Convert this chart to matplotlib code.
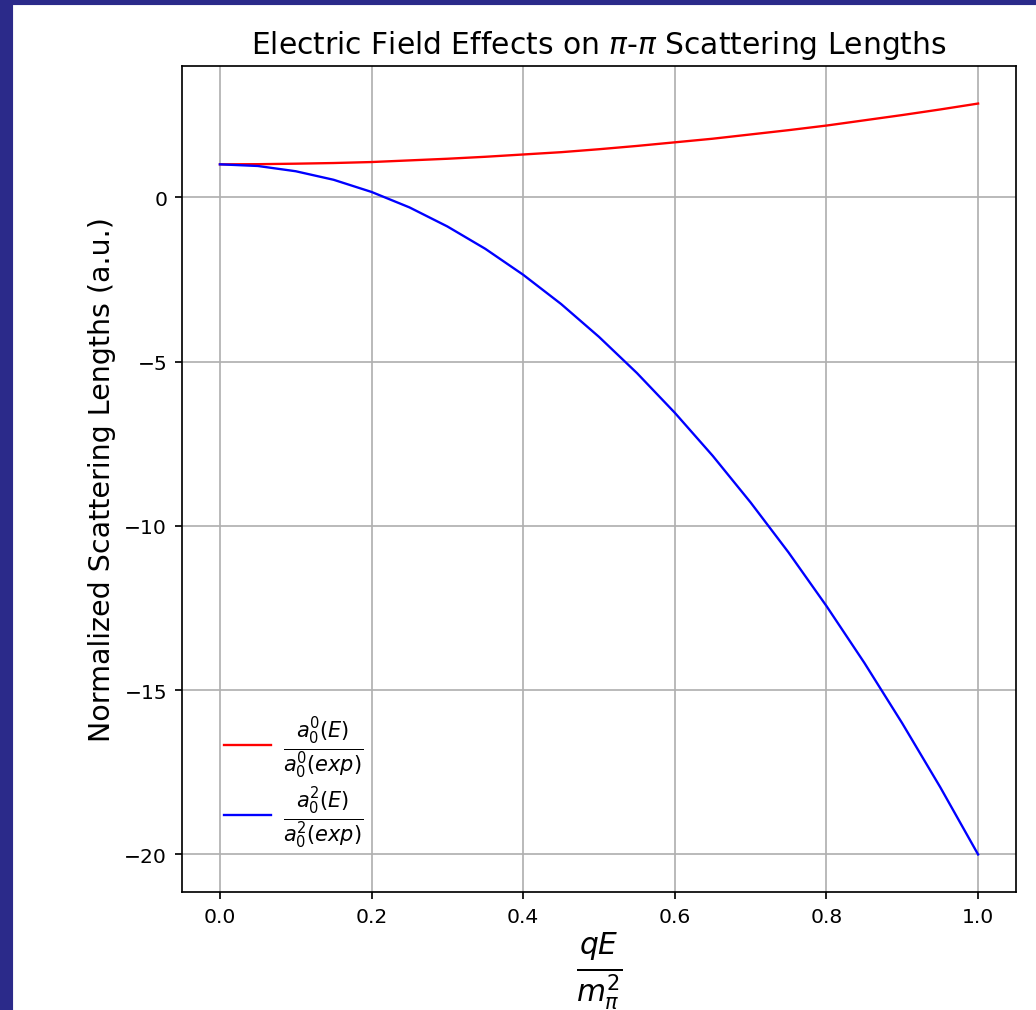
import numpy as np
import matplotlib
matplotlib.use("Agg")
import matplotlib.pyplot as plt
from matplotlib.patches import Rectangle

# values
qE = [0.0, 0.05, 0.1, 0.15, 0.2, 0.25, 0.3, 0.35, 0.4, 0.45, 0.5,
      0.55, 0.6, 0.65, 0.7, 0.75, 0.8, 0.85, 0.9, 0.95, 1.0]
a00 = [1.00, 1.005, 1.02, 1.04, 1.07, 1.12, 1.17, 1.23, 1.30, 1.37, 1.46,
       1.56, 1.67, 1.78, 1.91, 2.04, 2.18, 2.34, 2.50, 2.67, 2.85]
a02 = [1.00, 0.95, 0.79, 0.53, 0.16, -0.31, -0.89, -1.57, -2.36, -3.25, -4.25,
       -5.35, -6.56, -7.87, -9.29, -10.81, -12.44, -14.17, -16.01, -17.95, -20.00]

DPI = 153
fig = plt.figure(figsize=(1036 / DPI, 1011 / DPI), dpi=DPI)

# navy frame strip on the left and top of the screenshot
navy = "#2b2a8a"
fig.patches.append(Rectangle((0, 0), 12 / 1036, 1, transform=fig.transFigure,
                             color=navy, zorder=-10))
fig.patches.append(Rectangle((0, 1 - 5 / 1011), 1, 5 / 1011, transform=fig.transFigure,
                             color=navy, zorder=-10))

ax = fig.add_axes([182 / 1036, 1 - 893 / 1011, (1016 - 182) / 1036, (893 - 67) / 1011])

ax.plot(qE, a00, color="red", lw=1.1,
        label=r"$\frac{a_0^0(E)}{a_0^0(exp)}$")
ax.plot(qE, a02, color="blue", lw=1.1,
        label=r"$\frac{a_0^2(E)}{a_0^2(exp)}$")

ax.set_title(r"Electric Field Effects on $\pi$-$\pi$ Scattering Lengths", fontsize=14)
ax.set_xlabel(r"$\frac{qE}{m_\pi^2}$", fontsize=20, labelpad=2)
ax.set_ylabel("Normalized Scattering Lengths (a.u.)", fontsize=13.4)
ax.set_xticks([0.0, 0.2, 0.4, 0.6, 0.8, 1.0])
ax.set_yticks([0, -5, -10, -15, -20])
ax.tick_params(labelsize=9.5)
ax.grid(True)
ax.legend(loc="lower left", frameon=False, fontsize=14, handlelength=1.6,
          handletextpad=0.4, borderaxespad=1.0, labelspacing=0.15)

fig.savefig("out.png", dpi=DPI)
